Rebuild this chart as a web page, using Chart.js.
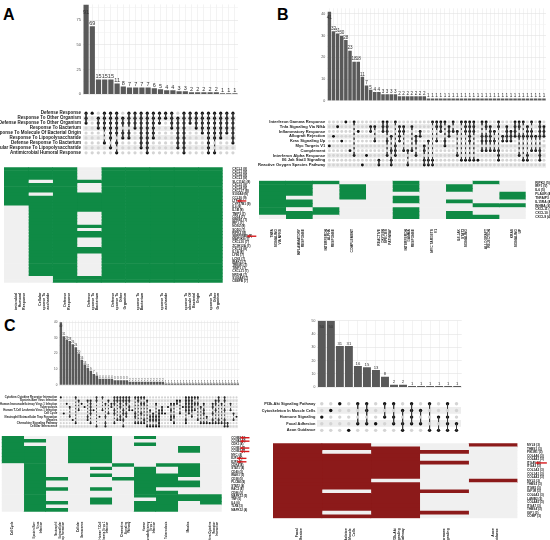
<!DOCTYPE html>
<html>
<head>
<meta charset="utf-8">
<script src="https://cdn.jsdelivr.net/npm/chart.js@4.4.1/dist/chart.umd.min.js"></script>
<style>
  body { margin: 0; background: #fff; width: 550px; height: 540px; position: relative; overflow: hidden;
         font-family: "Liberation Sans", Arial, sans-serif; }
  canvas { position: absolute; }
  .tag { position: absolute; font-weight: bold; font-size: 16px; line-height: 16px; }
</style>
</head>
<body>
<div class="tag" style="left:3px;top:7px">A</div>
<div class="tag" style="left:277px;top:7px">B</div>
<div class="tag" style="left:4px;top:318px">C</div>
<script>
const FONT = '"Liberation Sans", Arial, sans-serif';
const GREEN = '#0f8a45', RED = '#8c1a1a', OFF = '#f0f0f0', BAR = '#595959';

// ---------- panel A ----------
const aBars = [91, 69, 15, 15, 15, 11, 8, 7, 7, 7, 7, 6, 5, 4, 4, 3, 3, 2, 2, 2, 2, 2, 1, 1, 1];
const aTerms = ["Defense Response", "Response To Other Organism", "Defense Response To Other Organism",
  "Response To Bacterium", "Response To Molecule Of Bacterial Origin", "Response To Lipopolysaccharide",
  "Defense Response To Bacterium", "Cellular Response To Lipopolysaccharide", "Antimicrobial Humoral Response"];
const aSets = ["012", "0", "123", "01236", "0123457", "0123468", "1245", "01245", "0123", "01234567",
  "012345678", "012345", "012", "01", "0123", "1234567", "012345678", "012", "0123", "01234",
  "012345678", "0123458", "012345", "01234", "0123456"];
const aGenes = ["CXCL2", "CXCL1", "CXCL6", "CXCL3", "SLC11A1", "CXCL5", "CXCL8", "CXCL17", "S100A9",
  "CCL20", "LTF", "CYP27B1", "IL6", "IL1B", "TNIP3", "CD14", "NFKB1", "IRF1", "NOS2", "SOD2", "RIPK2",
  "SERPINB9", "MAP3K8", "CXCL10", "ZC3H12A", "CXCL9", "IL1A", "LY96", "LCN2", "IRAK3", "TREM1",
  "TIMP1", "CXCL11", "NR1H4", "S100A8", "CEBPB"];
const aCols = [["Antimicrobial", "Humoral", "Response"], ["Cellular", "Response To", "Lipopolysaccharide"],
  ["Defense", "Response"], ["Defense", "Response To", "Bacterium"], ["Defense", "Response To", "Other", "Organism"],
  ["Response To", "Bacterium"], ["Response To", "Lipopolysaccharide"],
  ["Response To", "Molecule Of", "Bacterial", "Origin"], ["Response To", "Other", "Organism"]];
const aCells = [
  "111111111111" + "000000000000" + "000000000000",
  "111101110" + "1111111111111111111111111" + "00",
  "111111111111111111111111111111111111",
  "0000" + "1" + "000" + "111111" + "0000" + "1" + "0" + "11" + "000" + "11" + "0000000" + "11",
  "111111111111111111111111111111111111",
  "111111111111111111111111111111111111",
  "111111111111111111111111111111111111",
  "111111111111111111111111111111111111",
  "111111111111111111111111111111111111"];
const aArrows = ["LTF", "SERPINB9"];

// ---------- panel B ----------
const bBars = [41, 32, 31, 30, 28, 23, 18, 18, 11, 7, 5, 4, 4, 3, 3, 3, 3, 2, 2, 2, 2, 2, 2, 2,
  1, 1, 1, 1, 1, 1, 1, 1, 1, 1, 1, 1, 1, 1, 1, 1, 1, 1, 1, 1, 1, 1, 1, 1, 1, 1, 1, 1, 1];
const bTerms = ["Interferon Gamma Response", "Tnfa Signaling Via Nfkb", "Inflammatory Response",
  "Allograft Rejection", "Kras Signaling Up", "Myc Targets V1", "Complement",
  "Interferon Alpha Response", "Il6 Jak Stat3 Signaling", "Reactive Oxygen Species Pathway"];
const bSets = ["5", "3", "1", "4", "0", "6", "07", "2", "9", "7", "12", "14", "89", "012", "01247",
  "3689", "0567", "1234", "126", "69", "16", "347", "23", "5689", "489", "089", "014", "012", "045",
  "123", "02", "27", "08", "0128", "012348", "0128", "8", "0346", "01346", "12346", "246", "01678",
  "34", "1234", "234", "0123", "0137", "038", "12378", "0236", "36", "0123678", "123"];
const bGenes = ["RIPK2", "IRF1", "IL6", "PLAUR", "TNFAIP3", "IL15RA", "INHBA", "CXCL11", "CXCL10", "CXCL9"];
const bCols = [["TNFA", "SIGNALING", "VIA NFKB"], ["INFLAMMATORY", "RESPONSE"], ["INTERFERON", "ALPHA", "RESPONSE"],
  ["COMPLEMENT"], ["REACTIVE", "OXYGEN", "SPECIES", "PATHWAY"], ["INTERFERON", "GAMMA", "RESPONSE"],
  ["MYC TARGETS", "V1"], ["IL6 JAK", "STAT3", "SIGNALING"], ["ALLOGRAFT", "REJECTION"], ["KRAS", "SIGNALING", "UP"]];
const bCells = ["1111111110", "1111011011", "1000000110", "0111100000", "0000000000",
  "1110110111", "0000000000", "0110010011", "1000001001", "0001101000"];

// ---------- panel C (left) ----------
const cBars = [40, 31, 29, 28, 26, 24, 20, 16, 13, 11, 9, 7, 6, 4, 4, 4, 4, 4, 3, 3, 3, 3, 3,
  2, 2, 2, 2, 2, 2, 2, 2, 2, 2, 2, 2,
  1, 1, 1, 1, 1, 1, 1, 1, 1, 1, 1, 1, 1, 1, 1, 1, 1, 1, 1, 1, 1, 1, 1, 1, 1];
const cTerms = ["Cytokine-Cytokine Receptor Interaction", "Epstein-Barr Virus Infection",
  "Human Immunodeficiency Virus 1 Infection", "Tuberculosis", "Human T-Cell Leukemia Virus 1 Infection",
  "Cell Cycle", "Neutrophil Extracellular Trap Formation", "Measles", "Chemokine Signaling Pathway",
  "Cellular Senescence"];
const cSets = ["0", "5", "2", "36", "7", "08", "14", "2", "3", "167", "123458", "4", "019", "6", "04",
  "2689", "15", "23", "012458", "017", "012367", "014579", "01256", "0134", "4", "0568", "018", "0258",
  "0278", "19", "4679", "5679", "2679", "456789", "345", "5", "3", "2467", "268", "12", "15", "3",
  "0123478", "012345", "012346", "024", "027", "38", "2458", "68", "8", "23578", "1248", "0178", "28",
  "014789", "89", "24", "57", "6"];
const cGenes = ["CCNB2", "CCNA2", "CDK1", "CCNE1", "CCNE2", "MYC", "E2F1", "E2F2", "CDK4", "STAT1", "CD40",
  "IRAK1", "CD38", "PLCB4", "STAT2", "RAC2", "CD86", "MAPK13", "TNF", "IL6", "TLR4", "MAPK12"];
const cCols = [["Cell Cycle"], ["Epstein-Barr", "Virus", "Infection"], ["Neutrophil", "Extracellular", "Trap Formation"],
  ["Cellular", "Senescence"], ["Human T-Cell", "Leukemia Virus 1", "Infection"], ["Chemokine", "Signaling", "Pathway"],
  ["Human", "Immunodeficiency", "Virus 1", "Infection"], ["Tuberculosis"], ["Measles"],
  ["Cytokine-Cytokine", "Receptor", "Interaction"]];
const cCells = ["1111111100000000000000", "0101111111111111111111", "0000000000001001000101",
  "1111111100000000000000", "1111111101010001001100", "0000000010001000000000",
  "1010000001111111110111", "0000000010011110111111", "0001100011110110011000",
  "0000000000000000011100"];
const cArrows = ["CCNB2", "CCNA2", "CCNE1", "CCNE2", "E2F1", "E2F2"];

// ---------- panel C (right) ----------
const dBars = [50, 50, 31, 31, 16, 15, 13, 8, 2, 2, 1, 1, 1, 1, 1, 1];
const dTerms = ["PI3k-Akt Signaling Pathway", "Cytoskeleton In Muscle Cells", "Hormone Signaling",
  "Focal Adhesion", "Axon Guidance"];
const dSets = ["2", "1", "0", "4", "03", "013", "3", "02", "023", "134", "0123", "13", "04", "24", "0234", "34"];
const dGenes = ["MYL9", "THBS1", "PIK3R1", "COL4A6", "COL4A1", "ITGAV", "ITGA3", "COL1A2", "COL1A1",
  "COL4A2", "MYL5", "THBS2", "ITGB5", "IGF1R", "COL6A3", "LAMB2", "COL4A5", "ITGA7", "THBS4", "IGF1", "COMP"];
const dCols = [["Focal", "Adhesion"], ["Cytoskeleton", "in Muscle", "Cells"], ["PI3k-Akt", "Signaling", "Pathway"],
  ["Hormone", "Signaling"], ["Axon", "Guidance"]];
const dCells = ["111111111111111111111", "110" + "1111111111" + "0" + "11111" + "0" + "1",
  "0" + "111111111" + "0" + "1111111111", "00100100000001000001" + "0", "1" + "000000000" + "1" + "0000000000"];
const dArrows = ["ITGAV"];

function mk(left, top, w, h) {
  const c = document.createElement('canvas');
  c.width = w; c.height = h;
  c.style.left = left + 'px'; c.style.top = top + 'px';
  c.style.width = w + 'px'; c.style.height = h + 'px';
  document.body.appendChild(c);
  return c;
}

// number on top of each bar
const barValues = {
  id: 'barValues',
  afterDatasetsDraw(chart, args, opts) {
    const { ctx, chartArea } = chart;
    const vals = chart.data.datasets[0].data;
    ctx.save();
    ctx.font = `${opts.size}px ${FONT}`;
    ctx.fillStyle = '#333';
    ctx.textAlign = 'center';
    chart.getDatasetMeta(0).data.forEach((bar, i) => {
      if (bar.y - opts.size < chartArea.top) {
        ctx.textBaseline = 'top';
        ctx.fillText(vals[i], bar.x, bar.y + opts.size * 0.9);
      } else {
        ctx.textBaseline = 'bottom';
        ctx.fillText(vals[i], bar.x, bar.y - 0.3);
      }
    });
    ctx.restore();
  }
};

// red arrows just after the label of highlighted genes
const geneArrows = {
  id: 'geneArrows',
  afterDraw(chart, args, opts) {
    if (!opts.genes || !opts.genes.length) return;
    const { ctx, chartArea } = chart;
    const y = chart.scales.y;
    ctx.save();
    ctx.font = `bold ${opts.font}px ${FONT}`;
    opts.genes.forEach(g => {
      const i = opts.names.indexOf(g);
      const py = y.getPixelForValue(i);
      const x0 = chartArea.right + 1.5 + ctx.measureText(chart.data.labels[i]).width + 2;
      const x1 = x0 + opts.len;
      ctx.strokeStyle = ctx.fillStyle = '#d7191c';
      ctx.lineWidth = 1.4;
      ctx.beginPath(); ctx.moveTo(x0 + 3, py); ctx.lineTo(x1, py); ctx.stroke();
      ctx.beginPath(); ctx.moveTo(x0, py); ctx.lineTo(x0 + 3.5, py - 1.6); ctx.lineTo(x0 + 3.5, py + 1.6);
      ctx.closePath(); ctx.fill();
    });
    ctx.restore();
  }
};

function barChart(cv, values, o) {
  return new Chart(cv, {
    type: 'bar',
    data: {
      labels: values.map((v, i) => i + 1),
      datasets: [{ data: values, backgroundColor: BAR, barPercentage: o.barPct, categoryPercentage: 1 }]
    },
    options: {
      responsive: false, animation: false,
      layout: { padding: { top: o.top, bottom: o.bottom, right: o.right, left: 0 } },
      plugins: { legend: { display: false }, tooltip: { enabled: false }, barValues: { size: o.valSize } },
      scales: {
        x: {
          grid: { offset: false, color: '#ebebeb', lineWidth: 0.6, drawTicks: false },
          border: { display: false }, ticks: { display: false },
          afterFit: s => { s.height = 0; }
        },
        y: {
          min: 0, max: o.max,
          border: { display: false },
          grid: { drawTicks: false, lineWidth: 0.6,
                  color: ctx => ctx.tick && ctx.tick.value % o.step === 0 ? '#e2e2e2' : '#f1f1f1' },
          ticks: { stepSize: o.step / 2, includeBounds: false, padding: 2, color: '#4d4d4d',
                   font: { size: o.tickSize, family: FONT },
                   callback: v => v % o.step === 0 ? v : '' },
          afterFit: s => { s.width = o.axisW; }
        }
      }
    },
    plugins: [barValues]
  });
}

function dotMatrix(cv, terms, sets, o) {
  const on = [], off = [];
  const cols = sets.map(s => s.split('').map(Number));
  cols.forEach((rows, c) => terms.forEach((t, r) => (rows.includes(r) ? on : off).push({ x: c, y: r })));
  const links = cols.filter(rows => rows.length > 1).map(rows => {
    const c = cols.indexOf(rows);
    return { data: [{ x: c, y: Math.min(...rows) }, { x: c, y: Math.max(...rows) }],
             showLine: true, borderColor: '#3a3a3a', borderWidth: o.lw, pointRadius: 0 };
  });
  return new Chart(cv, {
    type: 'scatter',
    data: {
      datasets: [
        { data: off, backgroundColor: '#d4d4d4', borderWidth: 0, pointRadius: o.r },
        ...links,
        { data: on, backgroundColor: '#111', borderWidth: 0, pointRadius: o.r }
      ]
    },
    options: {
      responsive: false, animation: false,
      layout: { padding: { top: o.top, bottom: o.bottom, right: o.right, left: 0 } },
      plugins: { legend: { display: false }, tooltip: { enabled: false } },
      scales: {
        x: { type: 'linear', min: -0.5, max: sets.length - 0.5, display: false },
        y: {
          type: 'linear', reverse: true, min: -0.5, max: terms.length - 0.5,
          border: { display: false },
          afterBuildTicks: s => { s.ticks = terms.map((t, i) => ({ value: i })); },
          grid: {
            drawTicks: false,
            lineWidth: ctx => Math.abs(ctx.scale.getPixelForValue(1) - ctx.scale.getPixelForValue(0)),
            color: ctx => ctx.index % 2 ? '#ededed' : 'rgba(0,0,0,0)'
          },
          ticks: { autoSkip: false, padding: 2, color: '#1a1a1a', callback: v => terms[v],
                   font: { size: o.font, weight: 'bold', family: FONT } },
          afterFit: s => { s.width = o.labelW; }
        }
      }
    }
  });
}

function heatmap(cv, genes, cols, cells, color, o) {
  const labels = genes.map((g, i) => `${g} (${cells.filter(c => c[i] === '1').length})`);
  return new Chart(cv, {
    type: 'bar',
    data: {
      labels: labels,
      datasets: cols.map((c, j) => ({
        data: genes.map(() => 1),
        backgroundColor: genes.map((g, i) => cells[j][i] === '1' ? color : OFF),
        borderWidth: 0, barPercentage: 1, categoryPercentage: 1
      }))
    },
    options: {
      indexAxis: 'y', responsive: false, animation: false,
      layout: { padding: { left: o.left, top: o.top, right: 0, bottom: 0 } },
      plugins: { legend: { display: false }, tooltip: { enabled: false },
                 geneArrows: { genes: o.arrows, names: genes, font: o.geneFont, len: o.arrowLen } },
      scales: {
        x: { stacked: true, min: 0, max: cols.length, display: false },
        cols: {
          type: 'category', labels: cols, position: 'bottom', offset: true,
          grid: { display: false }, border: { display: false },
          ticks: { minRotation: 90, maxRotation: 90, autoSkip: false, padding: 2, color: '#222',
                   font: { size: o.colFont, weight: 'bold', family: FONT, lineHeight: 1.1 } },
          afterFit: s => { s.height = o.colH; }
        },
        y: {
          stacked: true, position: 'right',
          grid: { display: false }, border: { display: false },
          ticks: { autoSkip: false, padding: 1.5, color: '#222',
                   font: { size: o.geneFont, weight: 'bold', family: FONT } },
          afterFit: s => { s.width = o.geneW; }
        }
      }
    },
    plugins: [geneArrows]
  });
}

// panel A
barChart(mk(60, 0, 180, 100), aBars,
  { axisW: 23, right: 2, top: 3.3, bottom: 5.7, max: 91, step: 25, barPct: 0.84, tickSize: 4, valSize: 5.5 });
dotMatrix(mk(0, 105, 240, 55), aTerms, aSets,
  { labelW: 83, right: 2, top: 5.7, bottom: 3.4, r: 1.6, lw: 0.9, font: 4.5 });
heatmap(mk(0, 160, 258, 150), aGenes, aCols, aCells, GREEN,
  { left: 4, top: 7.3, geneW: 35.3, colH: 27.3, colFont: 3.6, geneFont: 3.1,
    arrows: aArrows, arrowLen: 10 });

// panel B
barChart(mk(300, 0, 250, 106), bBars,
  { axisW: 27.3, right: 4, top: 8.3, bottom: 5.3, max: 42.6, step: 10, barPct: 0.85, tickSize: 3.6, valSize: 4.6 });
dotMatrix(mk(250, 114, 300, 58), bTerms, bSets,
  { labelW: 77.3, right: 4, top: 5.6, bottom: 4.6, r: 1.45, lw: 0.8, font: 4.1 });
heatmap(mk(258, 172, 292, 100), bGenes, bCols, bCells, GREEN,
  { left: 1, top: 8.7, geneW: 24.3, colH: 53, colFont: 3.3, geneFont: 3.3, arrows: [] });

// panel C left
barChart(mk(30, 314, 212, 76), cBars,
  { axisW: 29.3, right: 2.7, top: 6.6, bottom: 5, max: 41, step: 10, barPct: 0.85, tickSize: 3, valSize: 2.8 });
dotMatrix(mk(0, 390, 242, 42), cTerms, cSets,
  { labelW: 59.3, right: 2.7, top: 5.8, bottom: 2.9, r: 1.05, lw: 0.6, font: 2.8 });
heatmap(mk(0, 430, 258, 110), cGenes, cCols, cCells, GREEN,
  { left: 1.7, top: 6, geneW: 36.3, colH: 28.3, colFont: 2.8, geneFont: 2.9,
    arrows: cArrows, arrowLen: 10 });

// panel C right
barChart(mk(290, 314, 175, 78), dBars,
  { axisW: 27.3, right: 3.3, top: 6.7, bottom: 4.7, max: 50, step: 10, barPct: 0.88, tickSize: 3.4, valSize: 4.2 });
dotMatrix(mk(250, 396, 215, 42), dTerms, dSets,
  { labelW: 67.3, right: 3.3, top: 4.5, bottom: 2.5, r: 1.7, lw: 0.9, font: 3.9 });
heatmap(mk(270, 436, 280, 104), dGenes, dCols, dCells, RED,
  { left: 3, top: 7.3, geneW: 32.5, colH: 21.7, colFont: 3.4, geneFont: 3.1,
    arrows: dArrows, arrowLen: 12 });
</script>
</body>
</html>
